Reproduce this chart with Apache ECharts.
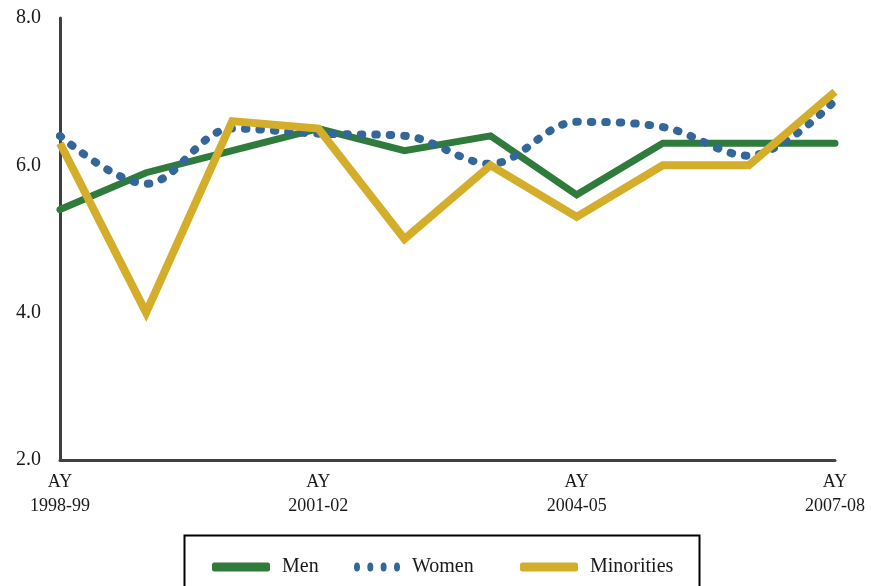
<!DOCTYPE html>
<html><head><meta charset="utf-8">
<script src="https://cdn.jsdelivr.net/npm/echarts@6/dist/echarts.min.js"></script>
<style>html,body{margin:0;padding:0;background:#fff}#c{width:871px;height:586px}</style>
</head><body><div id="c"></div>
<script>
const categories = ['AY\n1998-99','AY\n1999-00','AY\n2000-01','AY\n2001-02','AY\n2002-03','AY\n2003-04','AY\n2004-05','AY\n2005-06','AY\n2006-07','AY\n2007-08'];
const men        = [5.4, 5.9, 6.2, 6.5, 6.2, 6.4, 5.6, 6.3, 6.3, 6.3];
const women      = [6.4, 5.75, 6.5, 6.43, 6.4, 6.02, 6.59, 6.52, 6.13, 6.88];
const minorities = [6.3, 4.0, 6.6, 6.5, 5.0, 6.0, 5.3, 6.0, 6.0, 7.0];
const yTicks = [2, 4, 6, 8];

const FONT = '"Liberation Serif", "DejaVu Serif", serif';
const GREEN = '#2e7b3b', BLUE = '#336699', GOLD = '#d4ae2b';

const chart = echarts.init(document.getElementById('c'), null, {renderer: 'canvas'});
const dotsIcon = 'path://M0,4.5a3,4.5 0 1,0 6,0a3,4.5 0 1,0 -6,0Z M13.3,4.5a3,4.5 0 1,0 6,0a3,4.5 0 1,0 -6,0Z M26.6,4.5a3,4.5 0 1,0 6,0a3,4.5 0 1,0 -6,0Z M40,4.5a3,4.5 0 1,0 6,0a3,4.5 0 1,0 -6,0Z';
function leg(name, left, w, h, icon, color) {
  return {
    data: [{name: name, icon: icon, itemStyle: {color: color}}],
    left: left, top: 563 - 11, itemWidth: w, itemHeight: h, itemGap: 0,
    selectedMode: false,
    textStyle: {fontFamily: FONT, fontSize: 20, color: '#1a1a1a', padding: [0, 0, 0, 7]}
  };
}
chart.setOption({
  animation: false,
  grid: {left: 60, right: 36, top: 18, bottom: 126, containLabel: false},
  legend: [
    leg('Men', 207, 58, 9, 'roundRect', GREEN),
    leg('Women', 349, 46, 9, dotsIcon, BLUE),
    leg('Minorities', 515, 58, 9, 'roundRect', GOLD)
  ],
  graphic: [{
    type: 'rect', left: 182, top: 533, silent: true,
    shape: {width: 515, height: 80},
    style: {fill: 'none', stroke: '#000', lineWidth: 2}
  }],
  xAxis: {
    type: 'category', data: categories, boundaryGap: false,
    axisLine: {lineStyle: {color: '#404040', width: 3}},
    axisTick: {show: false},
    axisLabel: {interval: 2, fontFamily: FONT, fontSize: 18, color: '#1a1a1a', lineHeight: 24, margin: 10}
  },
  yAxis: {
    type: 'value', min: 2, max: 8, interval: 2,
    axisLine: {show: true, lineStyle: {color: '#404040', width: 3}},
    axisTick: {show: false},
    splitLine: {show: false},
    axisLabel: {fontFamily: FONT, fontSize: 20, color: '#1a1a1a', margin: 19,
      formatter: v => yTicks.includes(v) ? v.toFixed(1) : ''}
  },
  series: [
    {name: 'Men', type: 'line', data: men, symbol: 'none', z: 2,
     lineStyle: {color: GREEN, width: 7, cap: 'round', join: 'miter'}, itemStyle: {color: GREEN}},
    {name: 'Women', type: 'line', data: women, symbol: 'none', smooth: 0.35, z: 3,
     lineStyle: {color: BLUE, width: 8, type: [1.5, 13], cap: 'round'}, itemStyle: {color: BLUE}},
    {name: 'Minorities', type: 'line', data: minorities, symbol: 'none', z: 4,
     lineStyle: {color: GOLD, width: 8, cap: 'butt', join: 'miter'}, itemStyle: {color: GOLD}}
  ]
});
</script></body></html>
